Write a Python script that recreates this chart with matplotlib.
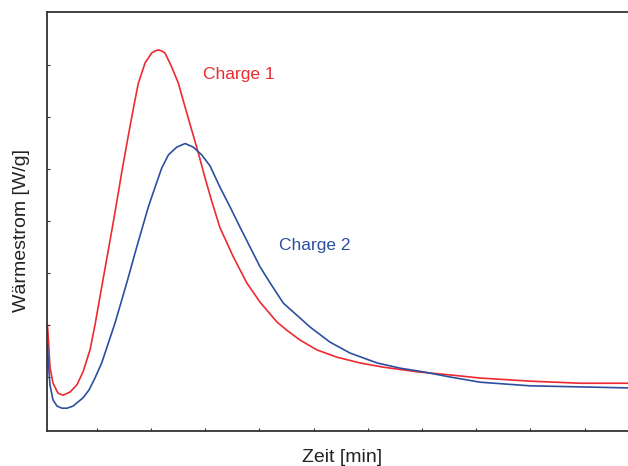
import matplotlib
matplotlib.use("Agg")
import matplotlib.pyplot as plt

plt.rcParams['font.family'] = ['Liberation Sans', 'DejaVu Sans']

# Charge 1 (red)
x1 = [0.46, 0.60, 0.69, 0.97, 1.43, 1.89, 2.54, 3.18, 3.74, 4.38, 4.84, 5.46, 6.07,
      6.69, 7.31, 7.92, 8.44, 8.84, 9.46, 10.07, 10.38, 10.68, 10.99, 11.30, 11.92,
      12.53, 13.15, 13.76, 14.37, 14.99, 15.61, 16.37, 17.60, 18.84, 20.06, 21.61,
      22.53, 23.75, 25.32, 27.17, 29.29, 31.41, 34.55, 37.59, 40.36, 44.97, 49.58, 54.0]
y1 = [2.00, 1.52, 1.19, 0.88, 0.69, 0.65, 0.71, 0.85, 1.10, 1.52, 2.00, 2.73, 3.44,
      4.17, 4.94, 5.65, 6.23, 6.65, 7.04, 7.23, 7.27, 7.29, 7.27, 7.23, 6.96,
      6.65, 6.19, 5.75, 5.31, 4.83, 4.38, 3.87, 3.31, 2.81, 2.44, 2.06,
      1.90, 1.71, 1.52, 1.38, 1.27, 1.19, 1.10, 1.04, 0.98, 0.92, 0.88, 0.88]

# Charge 2 (blue)
x2 = [0.46, 0.55, 0.69, 0.97, 1.34, 1.80, 2.26, 2.81, 3.74, 4.29, 4.84, 5.46, 6.07,
      6.69, 7.31, 7.92, 8.53, 9.15, 9.76, 10.38, 11.00, 11.61, 12.38, 13.15, 13.91,
      14.69, 15.45, 16.37, 17.30, 18.22, 19.14, 20.06, 20.99, 22.21, 23.45, 24.68,
      26.52, 28.37, 30.86, 32.98, 35.10, 37.59, 40.36, 44.97, 49.58, 54.0]
y2 = [1.62, 1.23, 0.85, 0.56, 0.44, 0.40, 0.40, 0.44, 0.60, 0.75, 0.98, 1.27, 1.65,
      2.04, 2.48, 2.92, 3.38, 3.83, 4.27, 4.65, 5.02, 5.27, 5.42, 5.49, 5.42,
      5.27, 5.06, 4.65, 4.27, 3.88, 3.50, 3.12, 2.81, 2.42, 2.19, 1.96,
      1.67, 1.46, 1.27, 1.17, 1.10, 1.00, 0.90, 0.83, 0.81, 0.79]

x_ticks = [5, 10, 15, 20, 25, 30, 35, 40, 45, 50]
y_ticks = [1, 2, 3, 4, 5, 6, 7]

RED = '#ec2a30'
BLUE = '#2c4f9f'

W, H = 628, 466
fig = plt.figure(figsize=(W / 100, H / 100), dpi=100)
ax = fig.add_axes([47 / W, (H - 431) / H, (W - 47) / W, (431 - 12) / H])

ax.plot(x1, y1, color=RED, lw=1.2)
ax.plot(x2, y2, color=BLUE, lw=1.2)

ax.set_xlim(0.415, 54.0)
ax.set_ylim(-0.0385, 8.019)
ax.set_xticks(x_ticks)
ax.set_yticks(y_ticks)
ax.tick_params(direction='in', length=2.5, width=0.8, colors='#333333',
               labelbottom=False, labelleft=False)
for s in ['left', 'top', 'bottom']:
    ax.spines[s].set_color('#333333')
    ax.spines[s].set_linewidth(1.3)
ax.spines['right'].set_visible(False)

ax.text(14.81, 6.81, 'Charge 1', color=RED, fontsize=12.5, ha='left', va='center')
ax.text(21.82, 3.52, 'Charge 2', color=BLUE, fontsize=12.5, ha='left', va='center')

fig.text(342 / W, 1 - 457 / H, 'Zeit [min]', fontsize=14, ha='center', va='center',
         color='#222222')
fig.text(22 / W, 1 - 231 / H, 'Wärmestrom [W/g]', fontsize=14, ha='center', va='center',
         rotation=90, color='#222222')

fig.savefig('out.png', dpi=100)
